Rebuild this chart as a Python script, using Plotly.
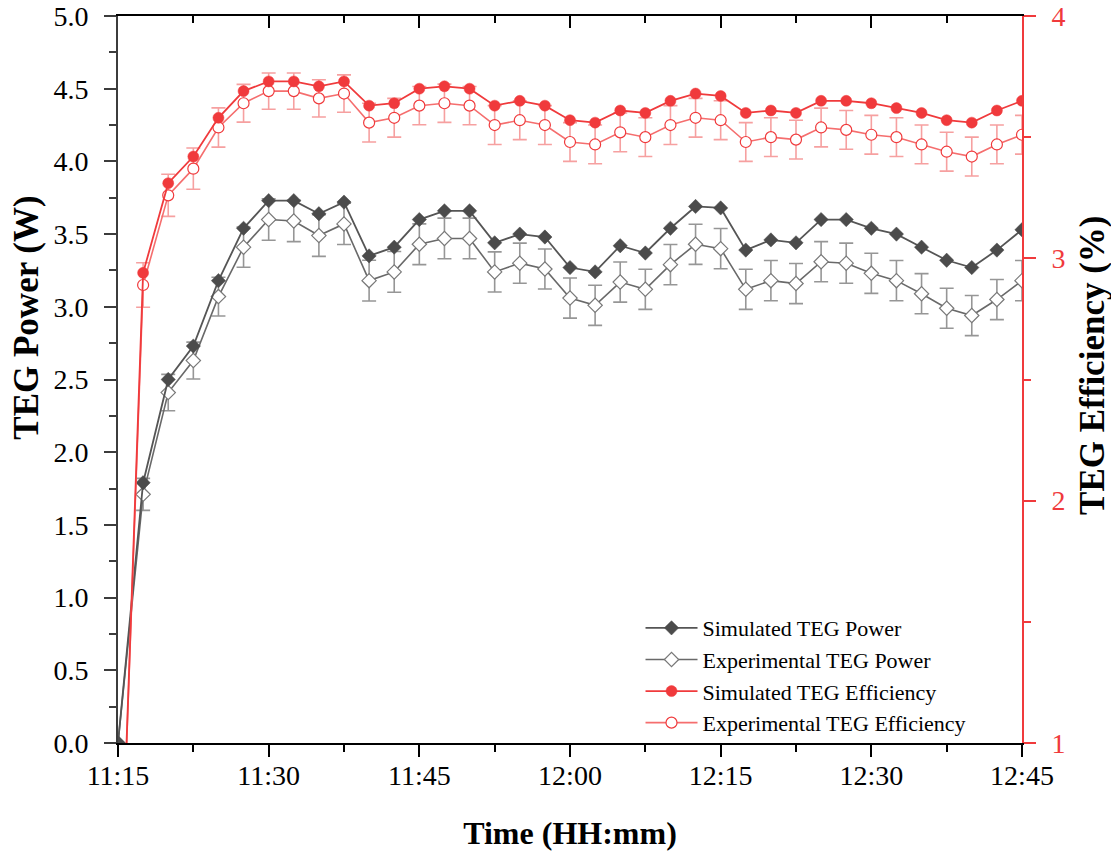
import plotly.graph_objects as go
import pandas as pd

# ---------------- data ----------------
times = ["11:15:00", "11:17:30", "11:20:00", "11:22:30", "11:25:00", "11:27:30",
         "11:30:00", "11:32:30", "11:35:00", "11:37:30", "11:40:00", "11:42:30",
         "11:45:00", "11:47:30", "11:50:00", "11:52:30", "11:55:00", "11:57:30",
         "12:00:00", "12:02:30", "12:05:00", "12:07:30", "12:10:00", "12:12:30",
         "12:15:00", "12:17:30", "12:20:00", "12:22:30", "12:25:00", "12:27:30",
         "12:30:00", "12:32:30", "12:35:00", "12:37:30", "12:40:00", "12:42:30",
         "12:45:00"]

sim_power = [0.00, 1.79, 2.50, 2.73, 3.18, 3.54, 3.73, 3.73, 3.64, 3.72, 3.35, 3.41,
             3.60, 3.66, 3.66, 3.44, 3.50, 3.48, 3.27, 3.24, 3.42, 3.37, 3.54, 3.69,
             3.68, 3.39, 3.46, 3.44, 3.60, 3.60, 3.54, 3.50, 3.41, 3.32, 3.27, 3.39,
             3.53]
exp_power = [0.00, 1.71, 2.41, 2.63, 3.07, 3.41, 3.60, 3.59, 3.49, 3.57, 3.18, 3.24,
             3.43, 3.47, 3.47, 3.24, 3.30, 3.26, 3.06, 3.01, 3.17, 3.12, 3.29, 3.43,
             3.40, 3.12, 3.18, 3.16, 3.31, 3.30, 3.23, 3.18, 3.09, 2.99, 2.94, 3.05,
             3.18]
exp_power_err = [0.00, 0.11, 0.125, 0.127, 0.133, 0.138, 0.142, 0.142, 0.143, 0.142, 0.140, 0.140,
                 0.140, 0.140, 0.140, 0.138, 0.138, 0.138, 0.138, 0.138, 0.138, 0.138, 0.138, 0.138,
                 0.138, 0.138, 0.138, 0.138, 0.138, 0.138, 0.138, 0.138, 0.138, 0.138, 0.138, 0.138,
                 0.138]

sim_eff = [0.00, 2.94, 3.31, 3.42, 3.58, 3.69, 3.73, 3.73, 3.71, 3.73, 3.63, 3.64,
           3.70, 3.71, 3.70, 3.63, 3.65, 3.63, 3.57, 3.56, 3.61, 3.60, 3.65, 3.68,
           3.67, 3.60, 3.61, 3.60, 3.65, 3.65, 3.64, 3.62, 3.60, 3.57, 3.56, 3.61,
           3.65]
exp_eff = [0.00, 2.89, 3.26, 3.37, 3.54, 3.64, 3.69, 3.69, 3.66, 3.68, 3.56, 3.58,
           3.63, 3.64, 3.63, 3.55, 3.57, 3.55, 3.48, 3.47, 3.52, 3.50, 3.55, 3.58,
           3.57, 3.48, 3.50, 3.49, 3.54, 3.53, 3.51, 3.50, 3.47, 3.44, 3.42, 3.47,
           3.51]
exp_eff_err = [0.00, 0.092, 0.087, 0.085, 0.081, 0.078, 0.075, 0.075, 0.077, 0.077, 0.080, 0.080,
               0.079, 0.079, 0.079, 0.080, 0.080, 0.080, 0.080, 0.080, 0.080, 0.080, 0.080, 0.080,
               0.080, 0.080, 0.080, 0.080, 0.080, 0.080, 0.080, 0.080, 0.080, 0.080, 0.080, 0.080,
               0.080]

x_range = ["11:15:00", "12:45:00"]
day = "2024-01-01 "
x = pd.to_datetime([day + t for t in times])
xr = [day + t for t in x_range]

FONT = "Times New Roman, Liberation Serif, serif"
RED = "rgb(240,58,60)"
RED_LIGHT = "rgb(245,110,110)"
RED_ERR = "rgb(246,160,160)"
DARK = "rgb(75,75,75)"
GRAY = "rgb(105,105,105)"
GRAY_ERR = "rgb(150,150,150)"

fig = go.Figure()

# experimental traces first (drawn below simulated)
fig.add_trace(go.Scatter(
    x=x, y=exp_power, name="Experimental TEG Power", mode="lines+markers",
    line=dict(color=GRAY, width=1.6),
    marker=dict(symbol="diamond", size=11, color="white", line=dict(color="rgb(120,120,120)", width=1.2)),
    error_y=dict(type="data", array=exp_power_err, color=GRAY_ERR, thickness=1.6, width=7),
    legendrank=2))
fig.add_trace(go.Scatter(
    x=x, y=sim_power, name="Simulated TEG Power", mode="lines+markers",
    line=dict(color="rgb(85,85,85)", width=1.8),
    marker=dict(symbol="diamond", size=11, color=DARK, line=dict(color=DARK, width=0.5)),
    legendrank=1))
fig.add_trace(go.Scatter(
    x=x, y=exp_eff, name="Experimental TEG Efficiency", mode="lines+markers",
    line=dict(color=RED_LIGHT, width=1.6), yaxis="y2",
    marker=dict(symbol="circle", size=11, color="white", line=dict(color=RED, width=1.2)),
    error_y=dict(type="data", array=exp_eff_err, color=RED_ERR, thickness=1.6, width=7),
    legendrank=4))
fig.add_trace(go.Scatter(
    x=x, y=sim_eff, name="Simulated TEG Efficiency", mode="lines+markers",
    line=dict(color=RED, width=1.8), yaxis="y2",
    marker=dict(symbol="circle", size=11, color=RED, line=dict(color=RED, width=0.5)),
    legendrank=3))
# invisible trace to hold the top mirror axis
fig.add_trace(go.Scatter(x=[xr[0]], y=[None], xaxis="x2", showlegend=False,
                         hoverinfo="skip", mode="markers"))

tick_ms = 15 * 60 * 1000
fig.update_layout(
    width=1111, height=855,
    margin=dict(l=118, r=89, t=16, b=112),
    paper_bgcolor="white", plot_bgcolor="white",
    font=dict(family=FONT, color="black", size=22),
    showlegend=True,
    legend=dict(x=0.578, y=0.187, xanchor="left", yanchor="top",
                bgcolor="rgba(0,0,0,0)", font=dict(size=22, family=FONT),
                tracegroupgap=0, itemwidth=52),
    xaxis=dict(type="date", range=xr, tickformat="%H:%M", dtick=tick_ms, tick0=xr[0],
               automargin=False,
               showgrid=False, zeroline=False, showline=True, linecolor="black", linewidth=2,
               ticks="outside", ticklen=12, tickwidth=2, tickcolor="black",
               minor=dict(dtick=tick_ms / 2, ticks="outside", ticklen=7, tickwidth=1.5, tickcolor="black"),
               tickfont=dict(size=28, family=FONT), ticklabelstandoff=-6,
               title=dict(text="<b>Time (HH:mm)</b>", font=dict(size=32, family=FONT), standoff=32)),
    xaxis2=dict(type="date", range=xr, overlaying="x", side="top", dtick=tick_ms, tick0=xr[0],
                automargin=False,
                showgrid=False, zeroline=False, showline=True, linecolor="black", linewidth=2,
                ticks="inside", ticklen=12, tickwidth=2, tickcolor="black", showticklabels=False,
                minor=dict(dtick=tick_ms / 2, ticks="inside", ticklen=7, tickwidth=1.5, tickcolor="black")),
    yaxis=dict(range=[0, 5], dtick=0.5, tickformat=".1f", automargin=False,
               showgrid=False, zeroline=False, showline=True, linecolor="rgb(60,60,60)", linewidth=2,
               ticks="outside", ticklen=12, tickwidth=2, tickcolor="rgb(60,60,60)",
               minor=dict(dtick=0.25, ticks="outside", ticklen=7, tickwidth=1.5, tickcolor="rgb(60,60,60)"),
               tickfont=dict(size=28, family=FONT), ticklabelstandoff=10),
    yaxis2=dict(range=[1, 4], dtick=1, overlaying="y", side="right", automargin=False,
                showgrid=False, zeroline=False, showline=True, linecolor=RED, linewidth=2,
                ticks="outside", ticklen=12, tickwidth=2, tickcolor=RED,
                minor=dict(dtick=0.5, ticks="outside", ticklen=7, tickwidth=1.5, tickcolor=RED),
                tickfont=dict(size=28, family=FONT, color=RED), ticklabelstandoff=10),
    annotations=[
        dict(text="<b>TEG Power (W)</b>", textangle=-90, xref="paper", yref="paper",
             x=-0.1007, y=0.585, xanchor="center", yanchor="middle", showarrow=False,
             font=dict(size=35, family=FONT, color="black")),
        dict(text="<b>TEG Efficiency (%)</b>", textangle=-90, xref="paper", yref="paper",
             x=1.0785, y=0.52, xanchor="center", yanchor="middle", showarrow=False,
             font=dict(size=35, family=FONT, color="black")),
    ],
)

fig.write_html("out.html")
